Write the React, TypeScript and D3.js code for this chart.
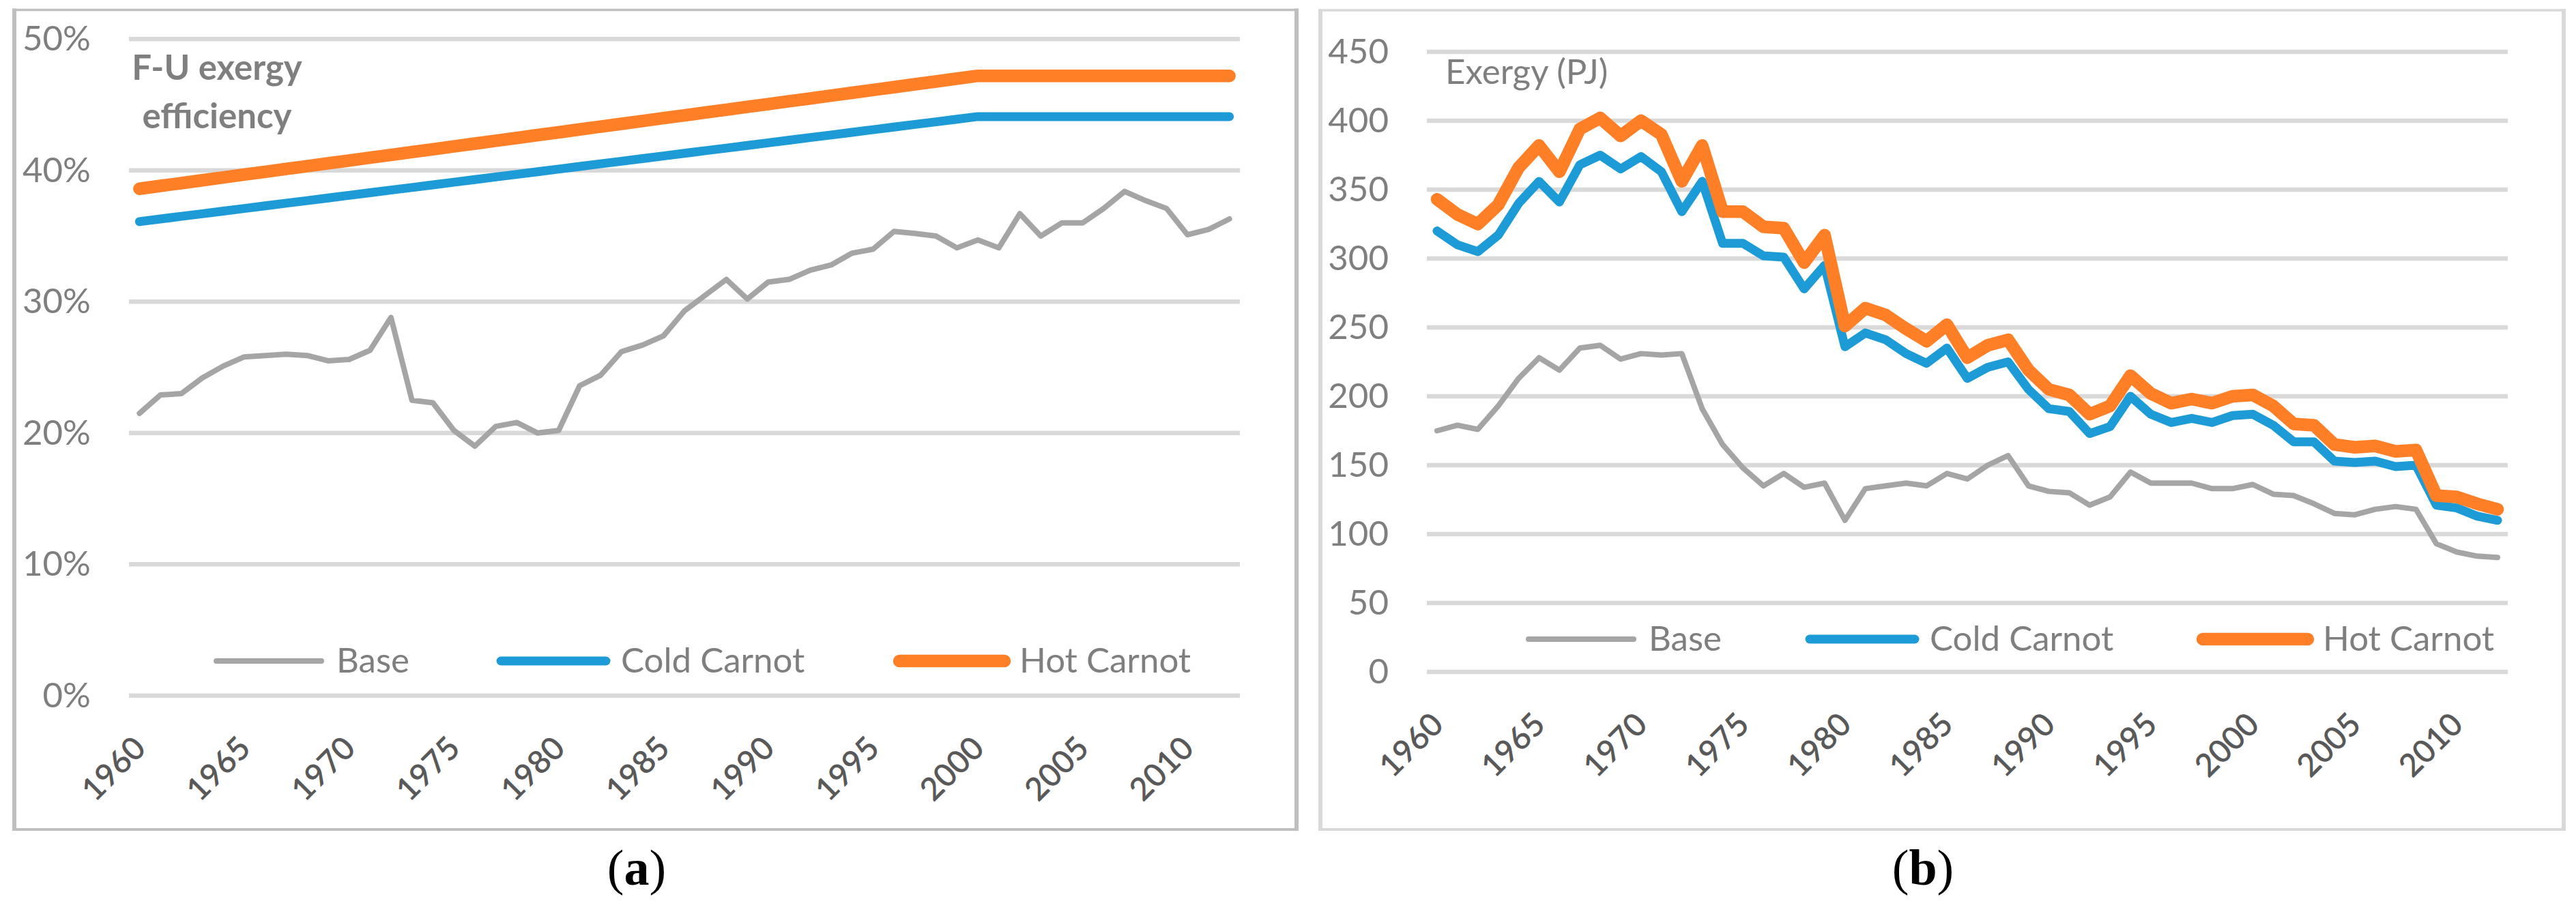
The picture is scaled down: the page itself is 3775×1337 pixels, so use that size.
import * as d3 from "d3";

const W = 3775;
const H = 1337;

const years = d3.range(1960, 2013);
const yearTicks = [1960, 1965, 1970, 1975, 1980, 1985, 1990, 1995, 2000, 2005, 2010];

const effTicks = [0, 10, 20, 30, 40, 50];
const exergyTicks = [0, 50, 100, 150, 200, 250, 300, 350, 400, 450];

const seriesNames = ["Base", "Cold Carnot", "Hot Carnot"];
const seriesColors = ["#a5a5a5", "#1d9bd7", "#ff7f27"];
const seriesWidths = [8, 13, 18.5];

// (a) F-U exergy efficiency, %
const effBase = [
  21.5, 22.9, 23.0, 24.2, 25.1, 25.8, 25.9, 26.0, 25.9, 25.5, 25.6, 26.3, 28.8, 22.5,
  22.3, 20.2, 19.0, 20.5, 20.8, 20.0, 20.2, 23.6, 24.4, 26.2, 26.7, 27.4, 29.3, 30.5,
  31.7, 30.2, 31.5, 31.7, 32.4, 32.8, 33.7, 34.0, 35.35, 35.2, 35.0, 34.1, 34.7, 34.1,
  36.7, 35.0, 36.0, 36.0, 37.1, 38.4, 37.7, 37.1, 35.1, 35.5, 36.3,
];
const effCold = [
  36.1, 36.3, 36.5, 36.7, 36.9, 37.1, 37.3, 37.5, 37.7, 37.9, 38.1, 38.3, 38.5, 38.7,
  38.9, 39.1, 39.3, 39.5, 39.7, 39.9, 40.1, 40.3, 40.5, 40.7, 40.9, 41.1, 41.3, 41.5,
  41.7, 41.9, 42.1, 42.3, 42.5, 42.7, 42.9, 43.1, 43.3, 43.5, 43.7, 43.9, 44.1, 44.1,
  44.1, 44.1, 44.1, 44.1, 44.1, 44.1, 44.1, 44.1, 44.1, 44.1, 44.1,
];
const effHot = [
  38.6, 38.82, 39.03, 39.25, 39.46, 39.68, 39.89, 40.11, 40.32, 40.54, 40.75, 40.97,
  41.18, 41.4, 41.61, 41.83, 42.04, 42.26, 42.47, 42.69, 42.9, 43.12, 43.33, 43.55,
  43.76, 43.98, 44.19, 44.41, 44.62, 44.84, 45.05, 45.27, 45.48, 45.7, 45.91, 46.13,
  46.34, 46.56, 46.77, 46.99, 47.2, 47.2, 47.2, 47.2, 47.2, 47.2, 47.2, 47.2, 47.2,
  47.2, 47.2, 47.2, 47.2,
];

// (b) Exergy, PJ
const exBase = [
  175, 179, 176, 193, 213, 228, 219, 235, 237, 227, 231, 230, 231, 191, 165, 148, 135,
  144, 134, 137, 110, 133, 135, 137, 135, 144, 140, 150, 157, 135, 131, 130, 121, 127,
  145, 137, 137, 137, 133, 133, 136, 129, 128, 122, 115, 114, 118, 120, 118, 93, 87, 84,
  83,
];
const exCold = [
  320, 310, 305, 317, 340, 356, 341, 368, 375, 365, 374, 363, 334, 356, 311, 311, 302,
  301, 278, 295, 236, 246, 241, 231, 224, 235, 213, 221, 225, 205, 191, 189, 173, 178,
  200, 187, 181, 184, 181, 186, 187, 179, 167, 167, 153, 152, 153, 149, 150, 121, 119,
  113, 110,
];
const exHot = [
  343, 332, 325, 339, 366, 382, 363, 394, 402, 389, 400, 390, 356, 382, 334, 334, 323,
  322, 297, 317, 251, 264, 259, 249, 240, 252, 228, 237, 241, 219, 205, 201, 187, 193,
  215, 202, 195, 198, 195, 200, 201, 193, 180, 179, 165, 163, 164, 160, 161, 128, 127,
  122, 118,
];

const FONT = "Lato, 'Open Sans', sans-serif";
const GRID = "#d9d9d9";
const TEXT = "#7f7f7f";
const TICK = "#595959";

type PanelSpec = {
  values: number[][];
  ticks: number[];
  yMax: number;
  fmt: (v: number) => string;
  frame: { x0: number; y0: number; x1: number; y1: number; color: string };
  plot: { left: number; right: number; top: number; bottom: number };
  legendStarts: number[];
  legendY: number;
  caption: string;
  captionX: number;
};

const panels: PanelSpec[] = [
  {
    values: [effBase, effCold, effHot],
    ticks: effTicks,
    yMax: 50,
    fmt: (v) => `${v}%`,
    frame: { x0: 21, y0: 14.5, x1: 1900, y1: 1216, color: "#bfbfbf" },
    plot: { left: 189, right: 1817, top: 57.3, bottom: 1019.8 },
    legendStarts: [317, 734, 1318],
    legendY: 969,
    caption: "a",
    captionX: 933,
  },
  {
    values: [exBase, exCold, exHot],
    ticks: exergyTicks,
    yMax: 450,
    fmt: (v) => `${v}`,
    frame: { x0: 1935, y0: 15, x1: 3757, y1: 1216, color: "#d9d9d9" },
    plot: { left: 2091, right: 3675, top: 76, bottom: 985 },
    legendStarts: [2240, 2652, 3228],
    legendY: 937,
    caption: "b",
    captionX: 2818,
  },
];

const Panel = ({ p }: { p: PanelSpec }) => {
  const x = d3.scaleBand<number>().domain(years).range([p.plot.left, p.plot.right]);
  const cx = (yr: number) => (x(yr) ?? 0) + x.bandwidth() / 2;
  const y = d3.scaleLinear().domain([0, p.yMax]).range([p.plot.bottom, p.plot.top]);
  const line = d3
    .line<number>()
    .x((_, i) => cx(years[i]))
    .y((v) => y(v));
  const f = p.frame;

  return (
    <g>
      {/* outer frame: verticals look a bit heavier than horizontals */}
      <line x1={f.x0} x2={f.x0} y1={f.y0 - 2} y2={f.y1 + 2} stroke={f.color} strokeWidth={6} />
      <line x1={f.x1} x2={f.x1} y1={f.y0 - 2} y2={f.y1 + 2} stroke={f.color} strokeWidth={6} />
      <line x1={f.x0 - 3} x2={f.x1 + 3} y1={f.y0} y2={f.y0} stroke={f.color} strokeWidth={3.5} />
      <line x1={f.x0 - 3} x2={f.x1 + 3} y1={f.y1} y2={f.y1} stroke={f.color} strokeWidth={4} />

      {p.ticks.map((t) => (
        <g key={t}>
          <line
            x1={p.plot.left}
            x2={p.plot.right}
            y1={y(t)}
            y2={y(t)}
            stroke={GRID}
            strokeWidth={6.5}
          />
          <text
            x={p.plot.left - 56}
            y={y(t) + 17}
            textAnchor="end"
            fontFamily={FONT}
            fontSize={51}
            fill={TEXT}
          >
            {p.fmt(t)}
          </text>
        </g>
      ))}

      {yearTicks.map((yr) => (
        <text
          key={yr}
          transform={`translate(${cx(yr) + 12},${p.plot.bottom + 80}) rotate(-45)`}
          textAnchor="end"
          fontFamily={FONT}
          fontSize={47}
          fontWeight={600}
          fill={TICK}
        >
          {yr}
        </text>
      ))}

      {p.values.map((vals, s) => (
        <path
          key={s}
          d={line(vals) ?? ""}
          fill="none"
          stroke={seriesColors[s]}
          strokeWidth={seriesWidths[s]}
          strokeLinecap="round"
          strokeLinejoin="round"
        />
      ))}

      {seriesNames.map((name, s) => (
        <g key={name}>
          <line
            x1={p.legendStarts[s]}
            x2={p.legendStarts[s] + 154}
            y1={p.legendY}
            y2={p.legendY}
            stroke={seriesColors[s]}
            strokeWidth={seriesWidths[s]}
            strokeLinecap="round"
          />
          <text
            x={p.legendStarts[s] + 176}
            y={p.legendY + 17}
            fontFamily={FONT}
            fontSize={51}
            fill={TEXT}
          >
            {name}
          </text>
        </g>
      ))}

      <text
        x={p.captionX}
        y={1297}
        textAnchor="middle"
        fontFamily="'Liberation Serif', 'Times New Roman', serif"
        fontSize={74}
        fill="#000"
      >
        (<tspan fontWeight="bold">{p.caption}</tspan>)
      </text>
    </g>
  );
};

export default function App() {
  return (
    <svg
      width={W}
      height={H}
      viewBox={`0 0 ${W} ${H}`}
      style={{ position: "absolute", left: 0, top: 0, background: "#fff" }}
    >
      <rect width={W} height={H} fill="#fff" />
      {panels.map((p) => (
        <Panel key={p.caption} p={p} />
      ))}
      <text textAnchor="middle" fontFamily={FONT} fontSize={51} fontWeight="bold" fill={TEXT}>
        <tspan x={318} y={117}>F-U exergy</tspan>
        <tspan x={318} y={188}>efficiency</tspan>
      </text>
      <text x={2118} y={123} fontFamily={FONT} fontSize={51} fill={TEXT}>
        Exergy (PJ)
      </text>
    </svg>
  );
}
